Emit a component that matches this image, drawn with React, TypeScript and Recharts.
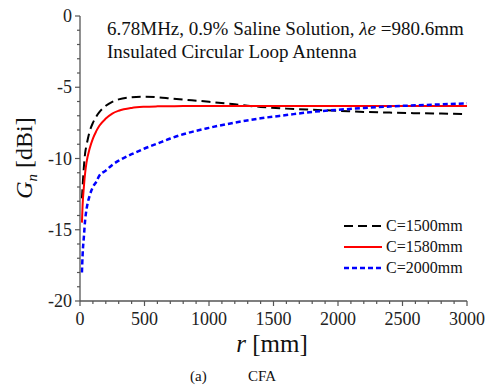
import { LineChart, Line, XAxis, YAxis, Legend, Customized } from 'recharts'

document.body.style.margin = '0'

const radius = [15, 20, 30, 40, 50, 75, 100, 125, 150, 200, 250, 300, 400, 500, 600, 700, 800, 1000, 1200, 1400, 1600, 1800, 2000, 2200, 2400, 2600, 2800, 3000]
const gainC1500 = [-12.8, -12.0, -10.6, -9.6, -9.1, -8.1, -7.5, -7.07, -6.75, -6.3, -6.02, -5.85, -5.7, -5.66, -5.7, -5.78, -5.86, -6.02, -6.2, -6.38, -6.5, -6.58, -6.65, -6.73, -6.78, -6.82, -6.85, -6.88]
const gainC1580 = [-14.5, -13.3, -12.0, -11.0, -10.3, -9.3, -8.6, -8.1, -7.7, -7.2, -6.85, -6.65, -6.45, -6.37, -6.34, -6.33, -6.32, -6.32, -6.32, -6.32, -6.32, -6.32, -6.32, -6.32, -6.32, -6.32, -6.32, -6.32]
const gainC2000 = [-18.0, -16.8, -15.5, -14.3, -13.6, -12.6, -12.0, -11.65, -11.2, -10.85, -10.45, -10.15, -9.7, -9.3, -8.95, -8.6, -8.3, -7.85, -7.48, -7.18, -6.95, -6.73, -6.58, -6.46, -6.35, -6.27, -6.2, -6.13]

const xTicks = Array.from({ length: 31 }, (_, i) => i * 100)
const yTicks = Array.from({ length: 21 }, (_, i) => -i)

const series = [
  { key: 'c1500', name: 'C=1500mm', color: '#000000', dash: '9 5', width: 2 },
  { key: 'c1580', name: 'C=1580mm', color: '#ff0000', dash: undefined, width: 2 },
  { key: 'c2000', name: 'C=2000mm', color: '#0000ff', dash: '5 3', width: 2.5 },
]

const data = radius.map((r, i) => ({
  r,
  c1500: gainC1500[i],
  c1580: gainC1580[i],
  c2000: gainC2000[i],
}))

const font = '"Liberation Serif", "Times New Roman", serif'
const serif = { fontFamily: font }
const axisColor = '#555'

function XTick({ x, y, payload }: any) {
  const major = payload.value % 500 === 0
  return (
    <g>
      <line x1={x} y1={y} x2={x} y2={y + (major ? 5 : 3)} stroke={axisColor} strokeWidth={1.2} />
      {major && (
        <text x={x} y={y + 24} textAnchor="middle" fontSize={18} style={serif} fill="#222">
          {payload.value}
        </text>
      )}
    </g>
  )
}

function YTick({ x, y, payload }: any) {
  const major = payload.value % 5 === 0
  return (
    <g>
      <line x1={x - (major ? 5 : 3)} y1={y} x2={x} y2={y} stroke={axisColor} strokeWidth={1.2} />
      {major && (
        <text x={x - 8} y={y + 6} textAnchor="end" fontSize={18} style={serif} fill="#222">
          {payload.value}
        </text>
      )}
    </g>
  )
}

function Annotations() {
  return (
    <g style={serif} fill="#111">
      <text x={107} y={35} fontSize={19} style={serif}>
        6.78MHz, 0.9% Saline Solution, <tspan fontStyle="italic">λe</tspan> =980.6mm
      </text>
      <text x={107} y={58} fontSize={19} style={serif}>Insulated Circular Loop Antenna</text>
      <text x={272} y={352} fontSize={25} textAnchor="middle" style={serif}>
        <tspan fontStyle="italic">r</tspan> [mm]
      </text>
      <text transform="translate(32,158) rotate(-90)" textAnchor="middle" fontSize={24} style={serif}>
        <tspan fontStyle="italic">G</tspan>
        <tspan fontStyle="italic" fontSize={15} dy={5}>n</tspan>
        <tspan dy={-5}> [dBi]</tspan>
      </text>
      <text x={190} y={381} fontSize={15} style={serif}>(a)</text>
      <text x={248} y={381} fontSize={15} style={serif}>CFA</text>
    </g>
  )
}

function LegendBox() {
  return (
    <div style={{ fontFamily: font, fontSize: 16, color: '#111' }}>
      {series.map((s) => (
        <div key={s.key} style={{ display: 'flex', alignItems: 'center', height: 21 }}>
          <svg width={40} height={10}>
            <line x1={2} y1={5} x2={40} y2={5} stroke={s.color} strokeWidth={s.width} strokeDasharray={s.dash} />
          </svg>
          <span style={{ marginLeft: 4 }}>{s.name}</span>
        </div>
      ))}
    </div>
  )
}

export default function App() {
  return (
    <LineChart width={486} height={390} data={data} margin={{ top: 16, right: 19, bottom: 0, left: 0 }} style={serif}>
      <XAxis
        dataKey="r"
        type="number"
        domain={[0, 3000]}
        ticks={xTicks}
        interval={0}
        height={89}
        tickSize={0}
        tickMargin={0}
        tickLine={false}
        tick={<XTick />}
        axisLine={{ stroke: axisColor, strokeWidth: 1.3 }}
      />
      <YAxis
        type="number"
        domain={[-20, 0]}
        ticks={yTicks}
        interval={0}
        width={80}
        tickSize={0}
        tickMargin={0}
        tickLine={false}
        tick={<YTick />}
        axisLine={{ stroke: axisColor, strokeWidth: 1.3 }}
      />
      {series.map((s) => (
        <Line
          key={s.key}
          type="monotone"
          dataKey={s.key}
          name={s.name}
          stroke={s.color}
          strokeWidth={s.width}
          strokeDasharray={s.dash}
          dot={false}
          activeDot={false}
          isAnimationActive={false}
        />
      ))}
      <Legend
        layout="horizontal"
        verticalAlign="middle"
        align="center"
        wrapperStyle={{ position: 'absolute', left: 342, top: 215, width: 140 }}
        content={() => <LegendBox />}
      />
      <Customized component={<Annotations />} />
    </LineChart>
  )
}
